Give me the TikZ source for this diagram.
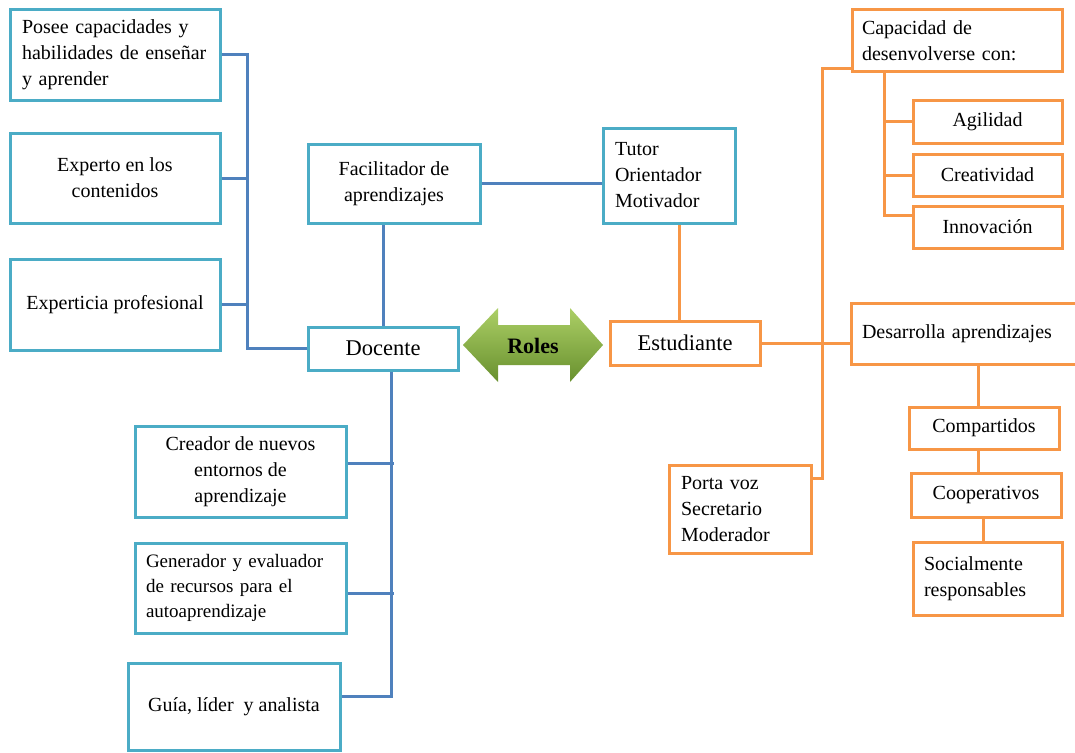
\documentclass[tikz,border=0pt]{standalone}
\usepackage{fontspec}
\setmainfont{Liberation Serif}
\definecolor{cyanb}{RGB}{75,172,198}
\definecolor{blueln}{RGB}{79,129,189}
\definecolor{orng}{RGB}{247,150,70}
\definecolor{grlight}{RGB}{172,207,102}
\definecolor{grdark}{RGB}{104,144,46}
\begin{document}
\begin{tikzpicture}[x=1pt,y=-1pt,
  base/.style={line width=3pt, inner xsep=12pt, inner ysep=0pt, fill=white,
    font=\fontsize{20}{26}\selectfont, align=center},
  cb/.style={base, draw=cyanb},
  ob/.style={base, draw=orng},
  bl/.style={draw=blueln, line width=3pt},
  ol/.style={draw=orng, line width=3pt}]
\clip (0,0) rectangle (1075,752);
\fill[white] (0,0) rectangle (1075,752);

% ---------- Docente side (blue) ----------
\node[cb, text width=186pt, align=left, minimum height=90pt] (posee) at (115,55) {Posee capacidades y\\habilidades de enseñar\\y aprender};
\node[cb, minimum width=210pt, minimum height=90pt] (experto) at (115,178) {Experto en los\\contenidos};
\node[cb, minimum width=210pt, minimum height=91pt] (expertic) at (115,304.5) {Experticia profesional};
\node[cb, minimum width=172pt, minimum height=79pt] (facil) at (394,183.5) {Facilitador de\\aprendizajes};
\node[cb, text width=108pt, align=left, minimum height=95pt] (tutor) at (669,175.5) {Tutor\\Orientador\\Motivador};
\node[cb, minimum width=150pt, minimum height=43pt, font=\fontsize{22.5}{27}\selectfont] (docente) at (383,348.5) {Docente};
\node[cb, minimum width=211pt, minimum height=91pt] (creador) at (240.5,471.5) {Creador de nuevos\\entornos de\\aprendizaje};
\node[cb, text width=189pt, inner xsep=11pt, align=left, minimum height=90pt, font=\fontsize{19}{25}\selectfont] (gener) at (240.5,588) {Generador y evaluador\\de recursos para el\\autoaprendizaje};
\node[cb, minimum width=212pt, minimum height=87pt] (guia) at (234,706.5) {Guía, líder~ y analista};

% ---------- Estudiante side (orange) ----------
\node[ob, minimum width=150pt, minimum height=44pt, font=\fontsize{22.5}{27}\selectfont] (estud) at (685,343) {Estudiante};
\node[ob, text width=190pt, inner xsep=10pt, align=left, minimum height=61pt] (capac) at (957,40.5) {Capacidad de\\desenvolverse con:};
\node[ob, minimum width=149pt, minimum height=43pt] (agil) at (987.5,121.5) {Agilidad};
\node[ob, minimum width=149pt, minimum height=42pt] (creat) at (987.5,175) {Creatividad};
\node[ob, minimum width=149pt, minimum height=42pt] (innov) at (987.5,227) {Innovación};
\node[ob, text width=207pt, inner xsep=11pt, align=left, minimum height=61pt] (desarr) at (965.5,333.5) {Desarrolla aprendizajes};
\node[ob, minimum width=150pt, minimum height=42pt] (compart) at (984,428) {Compartidos};
\node[ob, minimum width=150pt, minimum height=44pt] (coop) at (986,495) {Cooperativos};
\node[ob, text width=127pt, inner xsep=11pt, align=left, minimum height=73pt] (social) at (987.5,578.5) {Socialmente\\responsables};
\node[ob, text width=118pt, align=left, minimum height=88pt] (porta) at (740,509) {Porta voz\\Secretario\\Moderador};

% ---------- Roles arrow ----------
\path[top color=grlight, bottom color=grdark] (463,345) -- (498,308) -- (498,325) -- (570,325) -- (570,308) -- (603,345) -- (570,382) -- (570,365) -- (498,365) -- (498,382) -- cycle;
\node[font=\bfseries\fontsize{22}{26}\selectfont] (roles) at (533,346) {Roles};

% ---------- blue connectors ----------
\coordinate (ltop) at (247,55);
\coordinate (lbot) at (247,348.5);
\draw[bl] (posee.east) -- (ltop) -- (lbot) -- (docente.west);
\draw[bl] (experto.east) -- (experto.east -| ltop);
\draw[bl] (expertic.east) -- (expertic.east -| ltop);
\draw[bl] (docente.north) -- (docente.north |- facil.south);
\draw[bl] (facil.east) -- (facil.east -| tutor.west);
\coordinate (dtr) at (391,0);
\coordinate (dbot) at (391,696);
\draw[bl] (docente.south -| dtr) -- (dbot) -- (dbot -| guia.east);
\coordinate (c1) at (394,463);
\coordinate (c2) at (394,593);
\draw[bl] (c1 -| creador.east) -- (c1);
\draw[bl] (c2 -| gener.east) -- (c2);

% ---------- orange connectors ----------
\coordinate (tx) at (679,0);
\draw[ol] (tutor.south -| tx) -- (estud.north -| tx);
\coordinate (rtop) at (822,68);
\coordinate (rbot) at (822,478);
\draw[ol] (rtop -| capac.west) -- (rtop) -- (rbot) -- (rbot -| porta.east);
\draw[ol] (estud.east) -- (estud.east -| desarr.west);
\coordinate (ci) at (884,215);
\draw[ol] (capac.south -| ci) -- (ci) -- (ci -| innov.west);
\draw[ol] (agil.west) -- (agil.west -| ci);
\draw[ol] (creat.west) -- (creat.west -| ci);
\coordinate (dx) at (978,0);
\draw[ol] (desarr.south -| dx) -- (compart.north -| dx);
\draw[ol] (compart.south -| dx) -- (coop.north -| dx);
\coordinate (sx) at (983,0);
\draw[ol] (coop.south -| sx) -- (social.north -| sx);
\end{tikzpicture}
\end{document}
